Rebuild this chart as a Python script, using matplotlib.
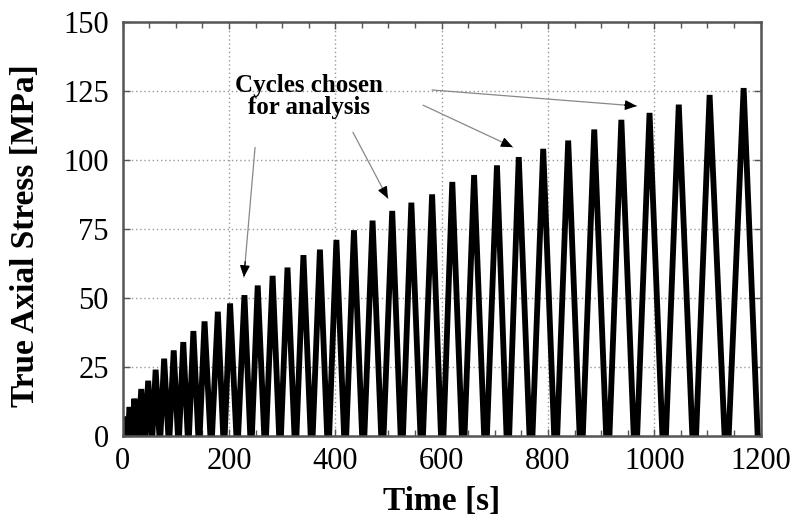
import matplotlib.pyplot as plt
from matplotlib.ticker import MultipleLocator

# peak time [s] and peak stress [MPa] of each load cycle
peak_t = [5, 13, 22, 35, 48, 62, 78, 96, 114, 133, 154, 179, 202, 229, 254,
          282, 310, 340, 371, 402, 435, 470, 507, 543, 582, 620, 661, 704,
          745, 791, 838, 887, 938, 991, 1046, 1104, 1168]
peak_s = [7, 10.5, 13.5, 17, 20, 24, 28, 31, 34, 38, 41.5, 45, 48, 51, 54.5,
          58, 61, 65.5, 67.5, 71, 74.5, 78, 81.5, 84.5, 87.5, 92, 94.5, 98,
          101, 104, 107, 111, 114.5, 117, 120, 123.5, 126]
start_t = 0
end_t = 1198
dwell_frac = 0.12   # share of a cycle spent at zero load

# trace: zero -> peak -> zero (short hold) between consecutive peaks
t = [start_t]
s = [0]
for i in range(len(peak_t)):
    t.append(peak_t[i])
    s.append(peak_s[i])
    nxt = peak_t[i + 1] if i + 1 < len(peak_t) else end_t + (end_t - peak_t[i])
    valley = (peak_t[i] + nxt) / 2
    hold = dwell_frac * (nxt - peak_t[i]) / 2
    t += [min(valley - hold, end_t), min(valley + hold, end_t)]
    s += [0, 0]

plt.rcParams['font.family'] = ['Liberation Serif', 'DejaVu Serif']

fig = plt.figure(figsize=(7.94, 5.19), dpi=100)
ax = fig.add_axes([0.1545, 0.16, 0.8035, 0.798])

ax.plot(t, s, color='black', lw=4.2, solid_joinstyle='miter', zorder=3)

ax.set_xlim(0, 1200)
ax.set_ylim(0, 150)
ax.set_xticks(range(0, 1201, 200))
ax.set_yticks(range(0, 151, 25))
ax.xaxis.set_minor_locator(MultipleLocator(50))
ax.tick_params(which='both', direction='in', top=True, right=True,
               labelsize=22, color='#555555')
ax.tick_params(which='major', length=5, width=1)
ax.tick_params(which='minor', length=4, width=1)
ax.tick_params(axis='y', pad=10)
ax.tick_params(axis='x', pad=8)
ax.grid(True, which='major', linestyle=(0, (1, 2)), color='#999999', lw=1)
for sp in ax.spines.values():
    sp.set_linewidth(1.8)
    sp.set_color('#555555')
    sp.set_zorder(4)

ax.set_xlabel('Time [s]', fontsize=24, fontweight='bold', labelpad=7)
ax.set_ylabel('True Axial Stress [MPa]', fontsize=24, fontweight='bold')
ax.yaxis.set_label_coords(-0.128, 0.483)

ax.text(350, 123, 'Cycles chosen\nfor analysis', fontsize=18, fontweight='bold',
        ha='center', va='center', linespacing=0.95, zorder=5)

# arrows: (start t, start s, tip t, tip s)
arrows = [(249, 104.5, 228, 57.5),
          (433, 110, 499, 86),
          (565, 119.8, 734, 104.6),
          (582, 125.3, 967, 119.5)]
for x0, y0, x1, y1 in arrows:
    ax.annotate('', xy=(x1, y1), xytext=(x0, y0),
                arrowprops=dict(arrowstyle='-', color='#888888', lw=0.9,
                                shrinkA=0, shrinkB=0), zorder=5)
    dx, dy = x1 - x0, y1 - y0
    f = 0.12 if abs(dx) < 60 else 0.06
    ax.annotate('', xy=(x1, y1), xytext=(x1 - f * dx, y1 - f * dy),
                arrowprops=dict(arrowstyle='-|>,head_length=0.7,head_width=0.3',
                                color='black', lw=0.9, shrinkA=0, shrinkB=0),
                zorder=5)

fig.savefig('out.png', dpi=100)
